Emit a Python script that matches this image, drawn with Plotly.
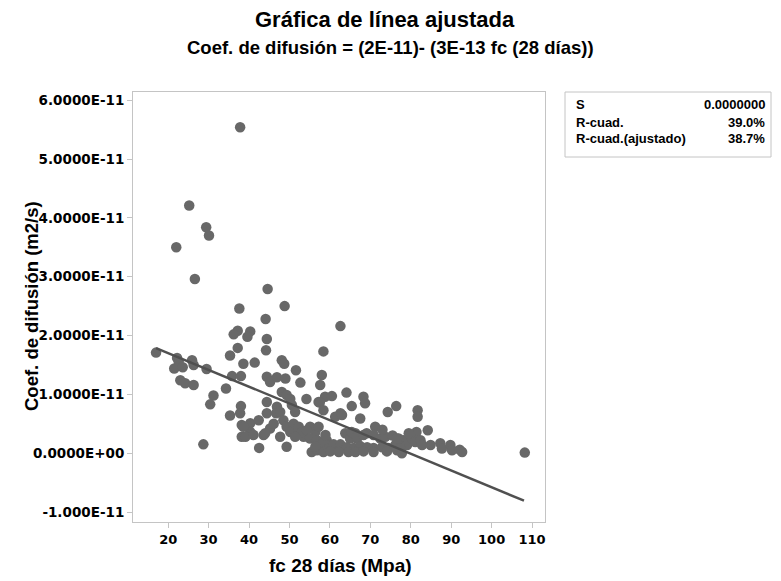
import plotly.graph_objects as go

# Data (coefficient values in units of 1E-11 m2/s)
fc28 = [
    37.8, 25.2, 29.4, 30.1, 22.0, 26.6, 44.6, 48.8, 37.6, 44.1, 62.6,
    37.2, 36.2, 40.3, 39.6, 44.4, 37.2, 44.2, 58.4, 17.0, 35.3,
    22.2, 22.6, 25.9, 26.3, 21.5, 23.6, 29.5,
    38.6, 41.4, 48.1, 48.7, 51.6,
    23.0, 24.2, 26.3, 35.8, 38.0, 34.3, 31.2, 30.4, 35.3, 38.0,
    28.7, 38.2, 42.5,
    44.4, 45.2, 46.9, 49.0, 52.7, 48.1, 49.3, 50.2, 50.6, 51.4, 44.4, 46.9, 46.7, 47.7, 54.2,
    58.0, 57.6, 57.2, 58.8, 60.5, 64.1, 68.3, 68.7, 65.4, 57.5, 58.4, 74.3, 76.4, 81.7, 81.7, 84.2, 108.2,
    62.6, 61.3, 67.5, 71.2, 81.4,
    38.2, 40.3, 42.4, 40.3, 43.6, 44.4, 45.2, 37.8, 38.6, 39.1, 41.1, 44.0,
    48.5, 49.3, 51.0, 50.2, 51.9, 53.5, 55.1, 56.4, 57.2, 46.1, 52.3, 53.1, 47.7, 51.4,
    49.3, 55.5, 56.8, 58.4, 59.2, 54.3, 55.1, 56.8, 58.4, 56.4, 58.4, 59.7, 58.9,
    63.0, 63.8, 65.0, 66.7, 66.3, 69.1, 70.8, 72.5, 73.7,
    60.9, 62.6, 64.2, 65.9, 67.5, 69.2, 70.8, 72.9, 74.5, 76.2, 77.4, 78.7,
    60.1, 62.2, 64.6, 66.3, 68.3, 70.8, 74.1, 76.6,
    78.2, 79.1, 80.3, 81.1, 82.4, 82.8, 84.9, 87.3, 87.7, 89.8, 90.2, 92.1, 92.7, 77.4, 77.8,
    75.5, 77.0, 73.0, 79.5, 65.4, 76.6, 66.7, 68.3,
]
coef_e11 = [
    5.54, 4.21, 3.84, 3.70, 3.50, 2.96, 2.79, 2.50, 2.46, 2.28, 2.16,
    2.08, 2.02, 2.07, 1.98, 1.94, 1.79, 1.75, 1.73, 1.71, 1.66,
    1.62, 1.56, 1.58, 1.50, 1.44, 1.46, 1.43,
    1.52, 1.54, 1.58, 1.52, 1.41,
    1.24, 1.19, 1.16, 1.31, 1.31, 1.10, 0.98, 0.83, 0.64, 0.80,
    0.15, 0.28, 0.09,
    1.30, 1.21, 1.29, 1.27, 1.20, 1.04, 0.99, 0.92, 0.82, 0.70, 0.87, 0.79, 0.68, 0.70, 0.92,
    1.33, 1.16, 0.87, 0.96, 0.97, 1.03, 0.96, 0.85, 0.80, 0.86, 0.73, 0.70, 0.80, 0.73, 0.62, 0.39, 0.01,
    0.68, 0.62, 0.59, 0.45, 0.36,
    0.48, 0.51, 0.56, 0.36, 0.31, 0.68, 0.42, 0.68, 0.45, 0.28, 0.31, 0.34,
    0.56, 0.45, 0.50, 0.36, 0.34, 0.28, 0.45, 0.36, 0.45, 0.50, 0.45, 0.36, 0.28, 0.28,
    0.11, 0.02, 0.05, 0.11, 0.22, 0.39, 0.25, 0.22, 0.19, 0.11, 0.02, 0.08, 0.31,
    0.65, 0.34, 0.25, 0.25, 0.34, 0.34, 0.31, 0.25, 0.28,
    0.15, 0.15, 0.10, 0.09, 0.12, 0.10, 0.09, 0.10, 0.09, 0.14, 0.15, 0.17,
    0.03, 0.02, 0.02, 0.02, 0.03, 0.02, 0.03, 0.05,
    0.22, 0.14, 0.25, 0.19, 0.22, 0.14, 0.14, 0.17, 0.08, 0.14, 0.05, 0.06, 0.02, 0.08, 0.00,
    0.30, 0.25, 0.40, 0.34, 0.36, 0.25, 0.28, 0.31,
]
coef = [v * 1e-11 for v in coef_e11]

# Fitted line coefficients and its x extent
fit_intercept = 2.27e-11
fit_slope = -2.85e-13
fit_x = [17.0, 108.0]
fit_y = [fit_intercept + fit_slope * x for x in fit_x]

x_ticks = [20, 30, 40, 50, 60, 70, 80, 90, 100, 110]
y_tickvals = [6e-11, 5e-11, 4e-11, 3e-11, 2e-11, 1e-11, 0.0, -1e-11]
y_ticktext = ["6.0000E-11", "5.0000E-11", "4.0000E-11", "3.0000E-11",
              "2.0000E-11", "1.0000E-11", "0.0000E+00", "-1.000E-11"]

stats_labels = ["S", "R-cuad.", "R-cuad.(ajustado)"]
stats_values = ["0.0000000", "39.0%", "38.7%"]

FONT = "Liberation Sans, Arial, sans-serif"
TICKFONT = "DejaVu Sans, Liberation Sans, sans-serif"

# The page body has an 8px margin, so the figure is drawn 8px smaller and offset.
OFF = 8
W, H = 781 - OFF, 581 - OFF
pl, pr, pt, pb = 133, 545, 92, 522   # plot frame in window pixels


def px_to_paper(xp, yp):
    return (xp - pl) / (pr - pl), (pb - yp) / (pb - pt)


fig = go.Figure()
fig.add_trace(go.Scatter(
    x=fc28, y=coef, mode="markers",
    marker=dict(size=10.5, color="rgb(104,104,104)", line=dict(width=0)),
    showlegend=False, hoverinfo="x+y"))
fig.add_trace(go.Scatter(
    x=fit_x, y=fit_y, mode="lines",
    line=dict(color="rgb(80,80,80)", width=2.5),
    showlegend=False))

fig.update_layout(
    width=W, height=H,
    margin=dict(l=pl - OFF, r=W - (pr - OFF), t=pt - OFF, b=H - (pb - OFF), pad=0),
    paper_bgcolor="white", plot_bgcolor="white",
    font=dict(family=FONT, color="black"),
    xaxis=dict(range=[11.3, 113.2], tickvals=x_ticks, showgrid=False, zeroline=False,
               showline=True, mirror=True, linecolor="#c4c4c4", linewidth=1,
               ticks="outside", ticklen=5, tickcolor="#c4c4c4",
               tickfont=dict(size=13, family=TICKFONT, weight="bold")),
    yaxis=dict(range=[-1.17e-11, 6.14e-11], tickvals=y_tickvals, ticktext=y_ticktext,
               showgrid=False, zeroline=False,
               showline=True, mirror=True, linecolor="#c4c4c4", linewidth=1,
               ticks="outside", ticklen=5, tickcolor="#c4c4c4",
               tickfont=dict(size=13.5, family=TICKFONT, weight="bold")),
)

anns = []
xx, yy = px_to_paper(385, 19)
anns.append(dict(text="<b>Gráfica de línea ajustada</b>", x=xx, y=yy, xref="paper", yref="paper",
                 showarrow=False, font=dict(size=22, family=FONT), xanchor="center", yanchor="middle"))
xx, yy = px_to_paper(390, 47)
anns.append(dict(text="<b>Coef. de difusión = (2E-11)- (3E-13 fc (28 días))</b>", x=xx, y=yy,
                 xref="paper", yref="paper", showarrow=False, font=dict(size=18.5, family=FONT),
                 xanchor="center", yanchor="middle"))
xx, yy = px_to_paper(340, 565)
anns.append(dict(text="<b>fc 28 días (Mpa)</b>", x=xx, y=yy, xref="paper", yref="paper",
                 showarrow=False, font=dict(size=19, family=FONT), xanchor="center", yanchor="middle"))
xx, yy = px_to_paper(31, 306)
anns.append(dict(text="<b>Coef. de difusión (m2/s)</b>", x=xx, y=yy, xref="paper", yref="paper",
                 showarrow=False, font=dict(size=18.5, family=FONT), textangle=-90,
                 xanchor="center", yanchor="middle"))
row_y = [105, 122, 138]
for lab, val, ry in zip(stats_labels, stats_values, row_y):
    xx, yy = px_to_paper(574, ry)
    anns.append(dict(text="<b>" + lab + "</b>", x=xx, y=yy, xref="paper", yref="paper",
                     showarrow=False, font=dict(size=13, family=FONT), xanchor="left", yanchor="middle"))
    xx, yy = px_to_paper(767, ry)
    anns.append(dict(text="<b>" + val + "</b>", x=xx, y=yy, xref="paper", yref="paper",
                     showarrow=False, font=dict(size=13, family=FONT), xanchor="right", yanchor="middle"))
fig.update_layout(annotations=anns)

bx0, by0 = px_to_paper(565, 157)
bx1, by1 = px_to_paper(771, 92)
fig.add_shape(type="rect", xref="paper", yref="paper", x0=bx0, y0=by0, x1=bx1, y1=by1,
              line=dict(color="#c4c4c4", width=1), fillcolor="rgba(0,0,0,0)")

fig.write_html("out.html")
